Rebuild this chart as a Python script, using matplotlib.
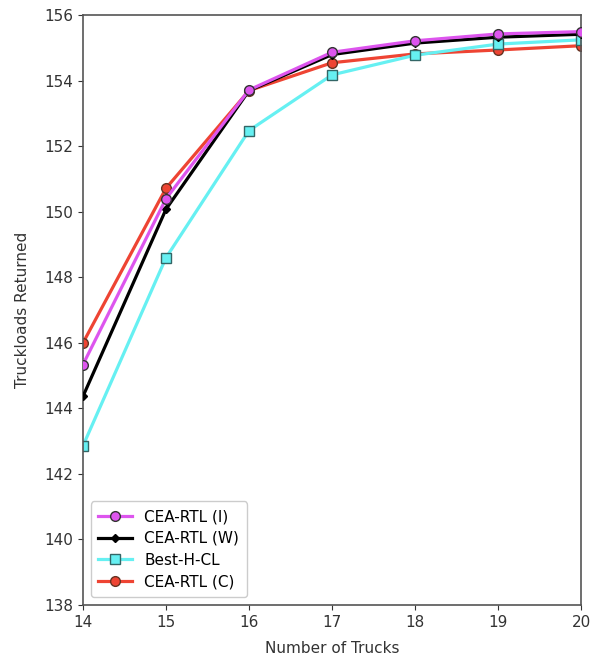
import matplotlib
matplotlib.use("Agg")
import matplotlib.pyplot as plt

trucks = [14, 15, 16, 17, 18, 19, 20]

cea_rtl_i = [145.34, 150.40, 153.72, 154.87, 155.22, 155.43, 155.50]
cea_rtl_w = [144.37, 150.08, 153.70, 154.80, 155.15, 155.33, 155.42]
best_h_cl = [142.86, 148.60, 152.48, 154.18, 154.78, 155.12, 155.25]
cea_rtl_c = [146.00, 150.72, 153.70, 154.55, 154.82, 154.94, 155.07]

fig = plt.figure(figsize=(5.95, 6.63), dpi=100)
ax = fig.add_axes([0.1395, 0.0875, 0.837, 0.8895])

ax.plot(trucks, cea_rtl_i, color="#dd55ee", linewidth=2.3,
        marker="o", markersize=7, markerfacecolor="#dd55ee",
        markeredgecolor="#333333", markeredgewidth=1.0,
        label="CEA-RTL (I)", zorder=4)
ax.plot(trucks, cea_rtl_w, color="black", linewidth=2.3,
        marker="D", markersize=4.5, markerfacecolor="black",
        markeredgecolor="black",
        label="CEA-RTL (W)", zorder=3)
ax.plot(trucks, best_h_cl, color="#66f0f2", linewidth=2.3,
        marker="s", markersize=7, markerfacecolor="#66f0f2",
        markeredgecolor="#336666", markeredgewidth=1.0,
        label="Best-H-CL", zorder=2)
ax.plot(trucks, cea_rtl_c, color="#ee4433", linewidth=2.3,
        marker="o", markersize=7, markerfacecolor="#ee4433",
        markeredgecolor="#663322", markeredgewidth=1.0,
        label="CEA-RTL (C)", zorder=1)

ax.set_xlim(14, 20)
ax.set_ylim(138, 156)
ax.set_xticks(trucks)
ax.set_yticks(range(138, 157, 2))
ax.tick_params(labelsize=11, colors="#333333")
for s in ax.spines.values():
    s.set_color("#555555")
    s.set_linewidth(1.2)

ax.set_xlabel("Number of Trucks", fontsize=11, color="#333333", labelpad=8)
ax.set_ylabel("Truckloads Returned", fontsize=11, color="#333333", labelpad=10)

ax.legend(loc="lower left", fontsize=11, handlelength=2.2,
          labelspacing=0.45, borderpad=0.5, framealpha=1.0,
          edgecolor="#cccccc", fancybox=True)

fig.savefig("out.png", dpi=100)
